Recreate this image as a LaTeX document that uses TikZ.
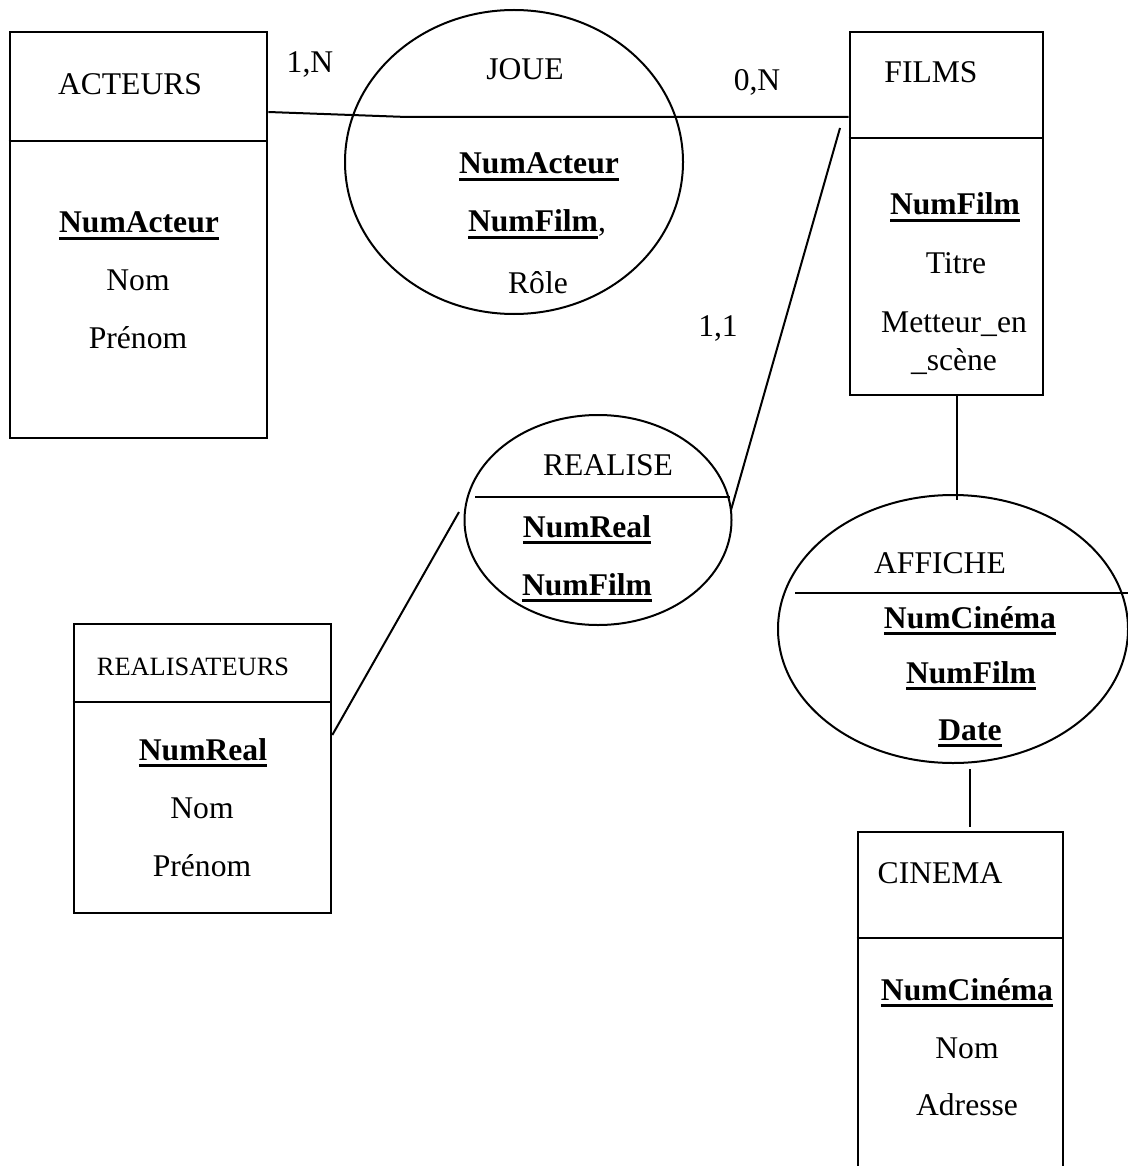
\documentclass[tikz,border=0pt]{standalone}
\usepackage{fontspec}
\setmainfont{Liberation Serif}
\usetikzlibrary{shapes.geometric,fit}

% bold key attribute with a heavy underline
\newcommand\keyul[1]{\setbox0\hbox{\bfseries #1}\rlap{\rule[-3.5pt]{\wd0}{1.35pt}}\box0}

\tikzset{
  entity/.style={draw, line width=1.3pt, inner sep=0pt},
  divider/.style={line width=1.3pt},
  assoc/.style={draw, ellipse, line width=1pt, inner sep=0pt},
  link/.style={line width=1pt},
  lbl/.style={anchor=base, inner sep=0pt, font=\fontsize{15.8}{19}\selectfont},
  sml/.style={anchor=base, inner sep=0pt, font=\fontsize{13.2}{16}\selectfont},
}

\begin{document}
\begin{tikzpicture}[x=0.5pt, y=-0.5pt]
\useasboundingbox (0,0) rectangle (1128,1166);
\clip (0,0) rectangle (1128,1166);

% ---------- entities ----------
\node[entity, fit={(10,32) (267,438)}] (acteurs) {};
\draw[divider] (acteurs.west |- 0,141) -- (acteurs.east |- 0,141);
\node[lbl] (acTitle) at (130,95) {ACTEURS};
\node[lbl] (acKey)   at (139,233) {\keyul{NumActeur}};
\node[lbl] (acNom)   at (138,290) {Nom};
\node[lbl] (acPre)   at (138,348) {Prénom};

\node[entity, fit={(850,32) (1043,395)}] (films) {};
\draw[divider] (films.west |- 0,138) -- (films.east |- 0,138);
\node[lbl] (fiTitle) at (931,83)  {FILMS};
\node[lbl] (fiKey)   at (955,215) {\keyul{NumFilm}};
\node[lbl] (fiTit)   at (956,273) {Titre};
\node[lbl] (fiMet1)  at (954,332) {Metteur\_en};
\node[lbl] (fiMet2)  at (954,370) {\_scène};

\node[entity, fit={(74,624) (331,913)}] (realisateurs) {};
\draw[divider] (realisateurs.west |- 0,702) -- (realisateurs.east |- 0,702);
\node[sml] (reTitle) at (193,675) {REALISATEURS};
\node[lbl] (reKey)   at (203,760) {\keyul{NumReal}};
\node[lbl] (reNom)   at (202,818) {Nom};
\node[lbl] (rePre)   at (202,876) {Prénom};

\node[entity, fit={(858,832) (1063,1220)}] (cinema) {};
\draw[divider] (cinema.west |- 0,938) -- (cinema.east |- 0,938);
\node[lbl] (ciTitle) at (940,883)  {CINEMA};
\node[lbl] (ciKey)   at (967,1000) {\keyul{NumCinéma}};
\node[lbl] (ciNom)   at (967,1058) {Nom};
\node[lbl] (ciAdr)   at (967,1115) {Adresse};

% ---------- associations ----------
\node[assoc, minimum width=169pt, minimum height=152pt] (joue) at (514,162) {};
\node[lbl] (joTitle) at (525,80)  {JOUE};
\node[lbl] (joK1)    at (539,174) {\keyul{NumActeur}};
\node[lbl] (joK2)    at (537,232) {\keyul{NumFilm},};
\node[lbl] (joRole)  at (538,293) {Rôle};

\node[assoc, minimum width=133.5pt, minimum height=105pt] (realise) at (598,520) {};
\draw[link] (475,497) -- (730,497);
\node[lbl] (rlTitle) at (608,475) {REALISE};
\node[lbl] (rlK1)    at (587,537) {\keyul{NumReal}};
\node[lbl] (rlK2)    at (587,595) {\keyul{NumFilm}};

\node[assoc, minimum width=175pt, minimum height=134pt] (affiche) at (953,629) {};
\draw[link] (795,593) -- (1128,593);
\node[lbl] (afTitle) at (940,573) {AFFICHE};
\node[lbl] (afK1)    at (970,628) {\keyul{NumCinéma}};
\node[lbl] (afK2)    at (971,683) {\keyul{NumFilm}};
\node[lbl] (afK3)    at (970,740) {\keyul{Date}};

% ---------- connectors ----------
\coordinate (jBend) at (407,117);
\draw[link] (acteurs.east |- 0,112) -- (jBend) -- (films.west |- jBend);

\coordinate (fiToRl) at (840,128);
\coordinate (rlToFi) at (731,510);
\draw[link] (fiToRl) -- (rlToFi);

\coordinate (rlToRe) at (459,512);
\draw[link] (rlToRe) -- (realisateurs.east |- 0,735);

\draw[link] (films.south -| 957,0) -- (957,500);

\coordinate (afToCi) at (970,769);
\coordinate (ciToAf) at (970,827);
\draw[link] (afToCi) -- (ciToAf);

% ---------- cardinalities ----------
\node[lbl] (card1) at (310,73)  {1,N};
\node[lbl] (card2) at (757,91)  {0,N};
\node[lbl] (card3) at (718,336) {1,1};

\end{tikzpicture}
\end{document}
